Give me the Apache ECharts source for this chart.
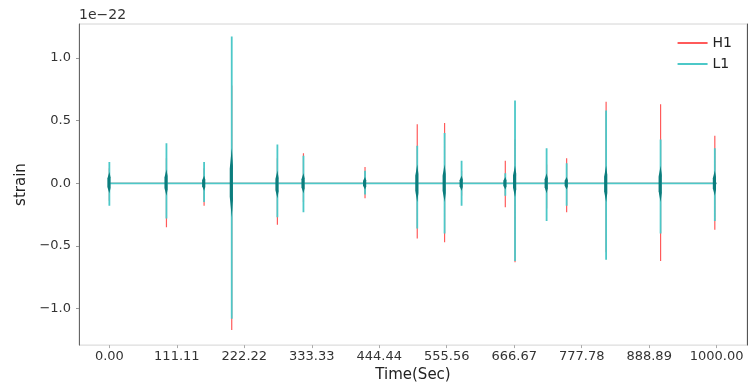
<!DOCTYPE html>
<html>
<head>
<meta charset="utf-8">
<script src="https://cdn.jsdelivr.net/npm/echarts@6/dist/echarts.min.js"></script>
<style>
  html, body { margin: 0; padding: 0; background: #fff; }
  #chart { width: 749px; height: 388px; }
</style>
</head>
<body>
<div id="chart"></div>
<script>
// strain values are in units of 1e-22
const eventTime = [0, 94, 156, 201.5, 276.7, 319.6, 421, 507, 552, 580, 652, 668, 720, 753, 818, 907.7, 997];
const h1Up   = [0.12, 0.20, 0.12, 0.78, 0.20, 0.24, 0.13, 0.47, 0.48, 0.10, 0.18, 0.35, 0.15, 0.20, 0.65, 0.63, 0.38];
const h1Down = [-0.14, -0.35, -0.18, -1.17, -0.33, -0.15, -0.12, -0.44, -0.47, -0.10, -0.19, -0.63, -0.20, -0.23, -0.55, -0.62, -0.37];
const l1Up   = [0.17, 0.32, 0.17, 1.17, 0.31, 0.22, 0.10, 0.30, 0.40, 0.18, 0.08, 0.66, 0.28, 0.16, 0.58, 0.35, 0.28];
const l1Down = [-0.18, -0.28, -0.15, -1.08, -0.27, -0.23, -0.09, -0.36, -0.40, -0.18, -0.10, -0.62, -0.30, -0.18, -0.61, -0.40, -0.30];
const bodyTop = [0.09, 0.11, 0.06, 0.28, 0.10, 0.08, 0.05, 0.15, 0.15, 0.06, 0.05, 0.14, 0.08, 0.05, 0.14, 0.14, 0.10];
const bodyBot = [-0.08, -0.10, -0.06, -0.27, -0.12, -0.08, -0.05, -0.15, -0.15, -0.06, -0.05, -0.11, -0.08, -0.05, -0.15, -0.15, -0.10];
const xTicks = [0, 111.11, 222.22, 333.33, 444.44, 555.56, 666.67, 777.78, 888.89, 1000];
const yTicks = [-1.0, -0.5, 0.0, 0.5, 1.0];

function spikes(up, down) {
    let d = [];
    eventTime.forEach((t, i) => {
        d.push([t, 0], [t, up[i]], [t, down[i]], [t, 0]);
    });
    d.push([1000, 0]);
    return d;
}

const bodyData = eventTime.map((t, i) => [t, bodyTop[i], bodyBot[i]]);

const font = 'DejaVu Sans';
let chart = echarts.init(document.getElementById('chart'));
chart.setOption({
    animation: false,
    grid: {
        left: 79, right: 2, top: 24, bottom: 39,
        show: true, borderColor: '#d4d4d4', borderWidth: 1
    },
    legend: {
        orient: 'vertical', right: 17, top: 36, padding: 0,
        icon: 'rect', itemWidth: 30, itemHeight: 2, itemGap: 7,
        textStyle: { fontFamily: font, fontSize: 14, color: '#222' },
        data: ['H1', 'L1']
    },
    graphic: [{
        type: 'text', left: 79, top: 8,
        style: { text: '1e\u221222', font: '14px "DejaVu Sans"', fill: '#333' }
    }],
    xAxis: {
        type: 'value', min: -50, max: 1050,
        name: 'Time(Sec)', nameLocation: 'middle', nameGap: 20,
        nameTextStyle: { fontFamily: font, fontSize: 15, color: '#222' },
        axisLine: { show: false, onZero: false },
        axisTick: { show: true, length: 3, lineStyle: { color: '#aaa' }, customValues: xTicks },
        axisLabel: {
            customValues: xTicks, margin: 5,
            fontFamily: font, fontSize: 13, color: '#333',
            formatter: v => v.toFixed(2)
        },
        splitLine: { show: false }
    },
    yAxis: [{
        type: 'value', min: -1.29, max: 1.27,
        name: 'strain', nameLocation: 'middle', nameGap: 38,
        nameTextStyle: { fontFamily: font, fontSize: 15, color: '#222' },
        axisLine: { show: true, onZero: false, lineStyle: { color: '#666' } },
        axisTick: { show: true, length: 3, lineStyle: { color: '#999' }, customValues: yTicks },
        axisLabel: {
            customValues: yTicks, margin: 8,
            fontFamily: font, fontSize: 13, color: '#333',
            formatter: v => (v < 0 ? '\u2212' : '') + Math.abs(v).toFixed(1)
        },
        splitLine: { show: false }
    }, {
        type: 'value', min: -1.29, max: 1.27, position: 'right',
        axisLine: { show: true, onZero: false, lineStyle: { color: '#555' } },
        axisTick: { show: false }, axisLabel: { show: false }, splitLine: { show: false }
    }],
    series: [
        {
            name: 'H1', type: 'line', color: '#ff5a5a', showSymbol: false,
            lineStyle: { width: 1.2 }, data: spikes(h1Up, h1Down)
        },
        {
            name: 'L1', type: 'line', color: '#4cc8c8', showSymbol: false,
            lineStyle: { width: 1.8 }, data: spikes(l1Up, l1Down)
        },
        {
            // dense part of the chirp, darker where the two detectors overlap
            name: 'L1body', type: 'custom', data: bodyData, z: 5,
            renderItem: (params, api) => {
                const top = api.coord([api.value(0), api.value(1)]);
                const bot = api.coord([api.value(0), api.value(2)]);
                const x = top[0];
                const h = bot[1] - top[1];
                return {
                    type: 'polygon',
                    shape: { points: [
                        [x, top[1]], [x + 1.2, top[1] + h * 0.25], [x + 1.2, top[1] + h * 0.75],
                        [x, bot[1]], [x - 2, top[1] + h * 0.7], [x - 2, top[1] + h * 0.3]
                    ] },
                    style: { fill: '#0b7d7d' }
                };
            }
        }
    ]
});
</script>
</body>
</html>
